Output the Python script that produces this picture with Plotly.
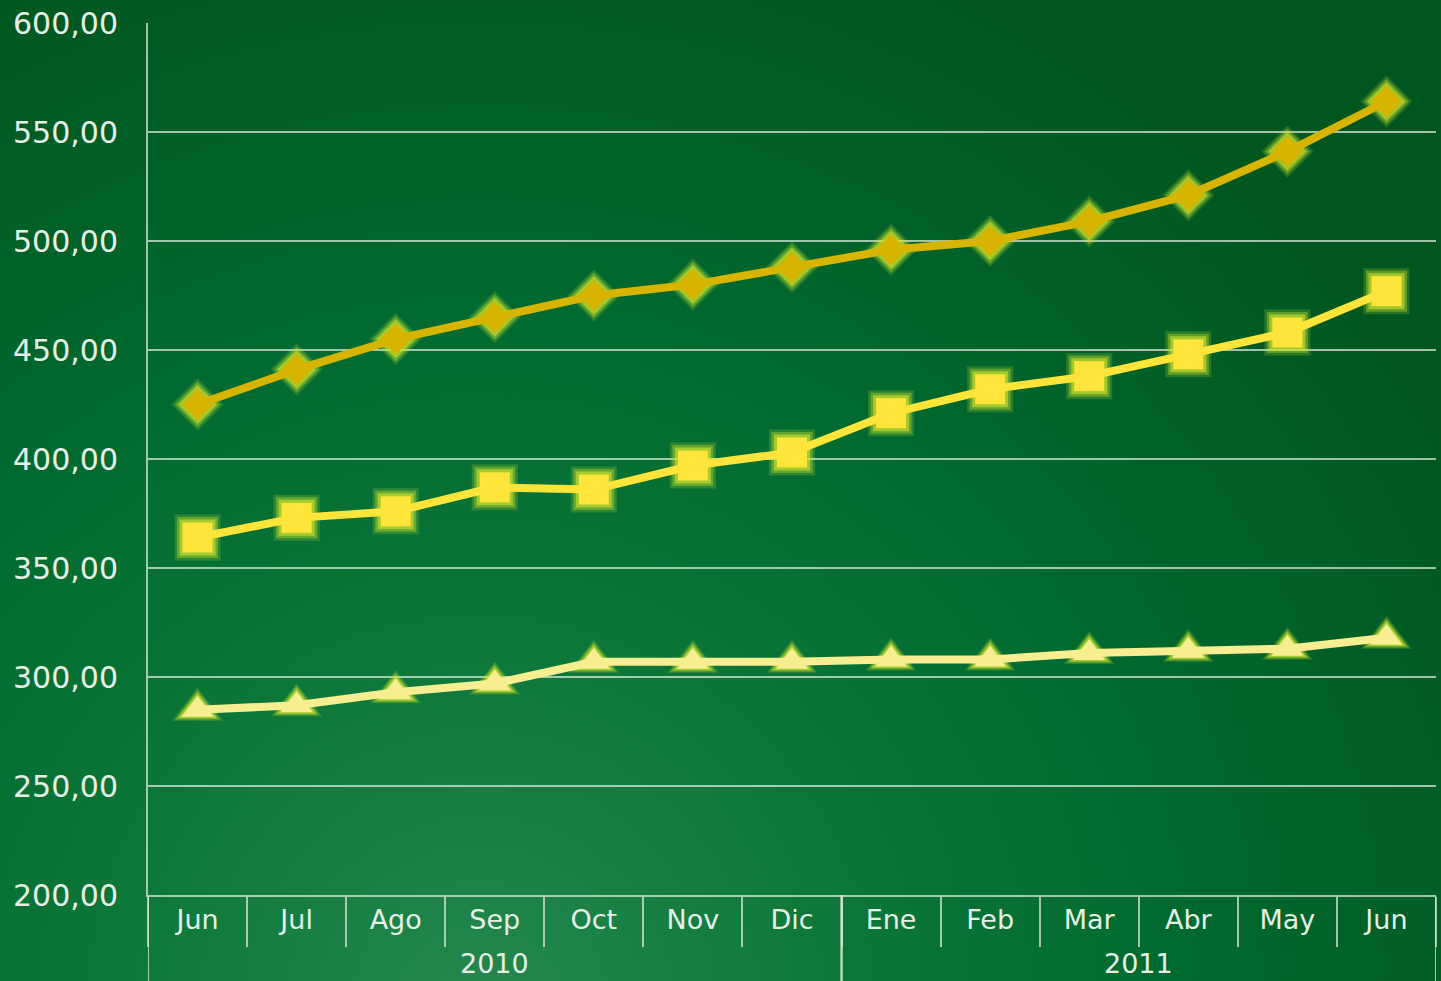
import base64

import plotly.graph_objects as go

# Data
months = ["Jun", "Jul", "Ago", "Sep", "Oct", "Nov", "Dic",
          "Ene", "Feb", "Mar", "Abr", "May", "Jun"]
years = ["2010", "2011"]
year_first_month = [0, 7]          # index where each year starts
year_last_month = [6, 12]

serie_diamante = [425, 441, 455, 465, 475, 480, 488, 496, 500, 509, 521, 541, 564]
serie_cuadrado = [364, 373, 376, 387, 386, 397, 403, 421, 432, 438, 448, 458, 477]
serie_triangulo = [285, 287, 293, 297, 307, 307, 307, 308, 308, 311, 312, 313, 318]

series = [
    # values, symbol, size, colour
    (serie_diamante, "diamond", 24, "#D6B400"),
    (serie_cuadrado, "square", 30, "#FFE43A"),
    (serie_triangulo, "triangle-up", 28, "#F7EE92"),
]

W, H = 1441, 981
margin = dict(l=148, r=5, t=23, b=86)
plot_w = W - margin["l"] - margin["r"]
plot_h = H - margin["t"] - margin["b"]

# radial green gradient for the whole page, as an inline svg
svg = f"""<svg xmlns="http://www.w3.org/2000/svg" width="{W}" height="{H}" viewBox="0 0 {W} {H}" preserveAspectRatio="none">
<defs><radialGradient id="g" cx="480" cy="1010" r="1150" gradientUnits="userSpaceOnUse">
<stop offset="0" stop-color="#25884F"/>
<stop offset="0.3" stop-color="#0E783A"/>
<stop offset="0.6" stop-color="#006A30"/>
<stop offset="1" stop-color="#00561F"/>
</radialGradient></defs>
<rect width="{W}" height="{H}" fill="url(#g)"/></svg>"""
bg_uri = "data:image/svg+xml;base64," + base64.b64encode(svg.encode()).decode()

x = list(range(len(months)))

fig = go.Figure()

# soft glow behind the markers
for values, symbol, size, color in series:
    for extra, alpha in [(16, 0.2), (11, 0.35), (6, 0.6)]:
        fig.add_trace(go.Scatter(
            x=x, y=values, mode="markers", hoverinfo="skip", showlegend=False,
            marker=dict(symbol=symbol, size=size + extra,
                        color=f"rgba(205,228,45,{alpha})", line=dict(width=0)),
        ))

for values, symbol, size, color in series:
    fig.add_trace(go.Scatter(
        x=x, y=values, mode="lines+markers", showlegend=False,
        line=dict(color=color, width=8),
        marker=dict(symbol=symbol, size=size, color=color, line=dict(width=0)),
    ))

font_color = "#E6EFE6"
grid_color = "rgba(215,230,215,0.75)"

# year dividers running down through the label area, and year labels
bottom = -margin["b"] / plot_h
for i, yr in enumerate(years):
    x0 = year_first_month[i] - 0.5
    x1 = year_last_month[i] + 0.5
    for xv in (x0, x1):
        fig.add_shape(type="line", xref="x", yref="paper", x0=xv, x1=xv,
                      y0=0, y1=bottom, line=dict(color=grid_color, width=2))
    fig.add_annotation(x=(x0 + x1) / 2, y=-68 / plot_h, xref="x", yref="paper",
                       text=yr, showarrow=False, yanchor="middle",
                       font=dict(size=27, color=font_color))

fig.update_layout(
    width=W, height=H,
    margin=margin,
    paper_bgcolor="#006A30",
    plot_bgcolor="rgba(0,0,0,0)",
    separators=", ",
    font=dict(family="DejaVu Sans", size=27, color=font_color),
    images=[dict(
        source=bg_uri, xref="paper", yref="paper",
        x=-margin["l"] / plot_w, y=1 + margin["t"] / plot_h,
        sizex=W / plot_w, sizey=H / plot_h,
        xanchor="left", yanchor="top", sizing="stretch", layer="below",
    )],
    xaxis=dict(
        range=[-0.5, len(months) - 0.5],
        tickvals=x, ticktext=months, ticks="",
        showgrid=False, zeroline=False,
        showline=True, linecolor=grid_color, linewidth=2,
        minor=dict(tick0=0.5, dtick=1, ticks="outside", ticklen=50,
                   tickcolor=grid_color, tickwidth=2, showgrid=False),
        tickfont=dict(size=27, color=font_color),
    ),
    yaxis=dict(
        range=[200, 600], dtick=50, tickformat=".2f",
        showgrid=True, gridcolor=grid_color, gridwidth=2,
        showline=True, linecolor=grid_color, linewidth=2,
        zeroline=False, ticks="", ticklabelstandoff=22,
        tickfont=dict(size=30, color=font_color),
    ),
)

fig.write_html("out.html", config={"displayModeBar": False},
               post_script="document.body.style.margin='0';")
